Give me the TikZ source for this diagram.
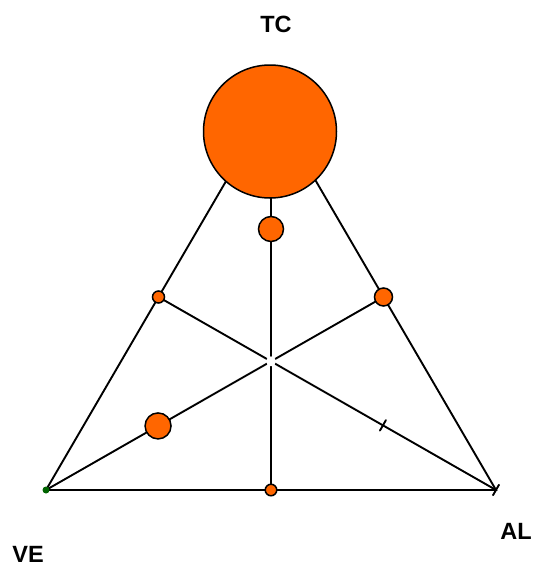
\documentclass[tikz,border=0pt]{standalone}
\usepackage{fontspec}
\setmainfont{Liberation Sans}
\usetikzlibrary{calc}
\definecolor{dotorange}{HTML}{FF6600}
\definecolor{dotgreen}{HTML}{006400}
\tikzset{
  edge/.style={line width=1.9pt, line cap=round},
  dot/.style={circle, draw=black, line width=1.5pt, fill=dotorange, inner sep=0pt},
  lbl/.style={font=\fontsize{23.5}{28}\selectfont\bfseries, inner sep=0pt}
}
\begin{document}
\begin{tikzpicture}[x=1pt,y=-1pt]
\useasboundingbox (0,0) rectangle (533,566);
% vertices
\coordinate (VE) at (46,490);
\coordinate (AL) at (496,490);
\coordinate (TCv) at (271,104);
\coordinate (G) at (271,361.3);
\coordinate (L) at ($(VE)!0.5!(TCv)$);
\coordinate (R) at ($(AL)!0.5!(TCv)$);
\coordinate (B) at ($(VE)!0.5!(AL)$);
\coordinate (M1) at ($(VE)!0.332!(R)$);
\coordinate (T1) at ($(AL)!0.335!(L)$);
% triangle and medians
\draw[edge] (VE) -- (AL) -- (TCv) -- cycle;
\draw[edge] (VE) -- (R);
\draw[edge] (AL) -- (L);
\draw[edge] (TCv) -- (B);
% ticks
\draw[edge] ($(T1)!6pt!90:(AL)$) -- ($(T1)!6pt!-90:(AL)$);
\draw[edge] ($(AL)!6pt!90:(L)$) -- ($(AL)!6pt!-90:(L)$);
% centre gap
\node[circle, fill=white, minimum size=10pt, inner sep=0pt] (gap) at (G) {};
% circles
\node[dot, minimum size=133pt] (big) at (270,131.5) {};
\node[dot, minimum size=25pt] (c2) at (271,229) {};
\node[dot, minimum size=26pt] (c3) at (M1) {};
\node[dot, minimum size=12pt] (cL) at (L) {};
\node[dot, minimum size=18pt] (cR) at (R) {};
\node[dot, minimum size=11.5pt] (cB) at (B) {};
\node[circle, fill=dotgreen, minimum size=7pt, inner sep=0pt] (gv) at (VE) {};
% labels
\node[lbl] (tc) at (276,24) {TC};
\node[lbl] (ve) at (28,554) {VE};
\node[lbl] (al) at (516,531) {AL};
\end{tikzpicture}
\end{document}
